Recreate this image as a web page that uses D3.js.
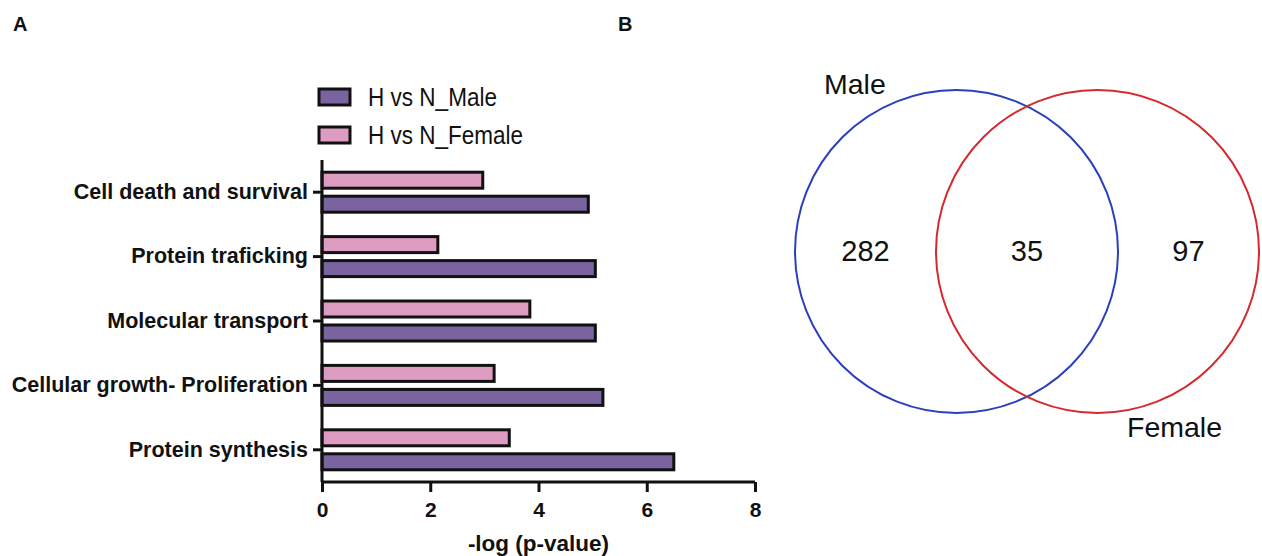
<!DOCTYPE html>
<html>
<head>
<meta charset="utf-8">
<script src="https://cdn.jsdelivr.net/npm/d3@7"></script>
<style>
  body { margin: 0; background: #fff; }
  text { font-family: "Liberation Sans", Arial, sans-serif; fill: #111; }
</style>
</head>
<body>
<script>
// panel A data
var categories = ['Cell death and survival', 'Protein traficking', 'Molecular transport',
  'Cellular growth- Proliferation', 'Protein synthesis'];
var maleValues = [4.92, 5.05, 5.05, 5.19, 6.5];
var femaleValues = [2.97, 2.14, 3.84, 3.18, 3.46];
var seriesNames = ['H vs N_Male', 'H vs N_Female'];
var xTicks = [0, 2, 4, 6, 8];

// panel B data
var vennSets = ['Male', 'Female'];
var vennCounts = [282, 35, 97];

var width = 1262;
var height = 556;

var svg = d3.select('body').append('svg')
  .attr('width', width)
  .attr('height', height);

var purple = '#7a64a0';
var pink = '#dd9cc0';

// panel letters
svg.append('text').attr('x', 13).attr('y', 31)
  .style('font-size', '20px').style('font-weight', 'bold').text('A');
svg.append('text').attr('x', 618).attr('y', 31)
  .style('font-size', '20px').style('font-weight', 'bold').text('B');

// ---- bar chart ----
var x = d3.scaleLinear().domain([0, 8]).range([322, 755]);
var y = d3.scaleBand().domain(categories).range([160, 482]);

var barH = 16;

var rows = categories.map(function(c, i) {
  return {name: c, male: maleValues[i], female: femaleValues[i]};
});

var g = svg.append('g');

g.selectAll('.bar-f')
  .data(rows)
  .enter().append('rect')
    .attr('class', 'bar-f')
    .attr('x', x(0))
    .attr('y', function(d) { return y(d.name) + y.bandwidth() / 2 - 4 - barH; })
    .attr('width', function(d) { return x(d.female) - x(0); })
    .attr('height', barH)
    .attr('fill', pink)
    .attr('stroke', '#111')
    .attr('stroke-width', 3);

g.selectAll('.bar-m')
  .data(rows)
  .enter().append('rect')
    .attr('class', 'bar-m')
    .attr('x', x(0))
    .attr('y', function(d) { return y(d.name) + y.bandwidth() / 2 + 4; })
    .attr('width', function(d) { return x(d.male) - x(0); })
    .attr('height', barH)
    .attr('fill', purple)
    .attr('stroke', '#111')
    .attr('stroke-width', 3);

var xAxis = g.append('g')
  .attr('transform', 'translate(0,482)')
  .call(d3.axisBottom(x).tickValues(xTicks).tickSize(10).tickPadding(10).tickFormat(d3.format('d')));

var yAxis = g.append('g')
  .attr('transform', 'translate(322,0)')
  .call(d3.axisLeft(y).tickSize(9).tickPadding(5));

[xAxis, yAxis].forEach(function(ax) {
  ax.select('.domain').attr('stroke', '#111').attr('stroke-width', 3);
  ax.selectAll('.tick line').attr('stroke', '#111').attr('stroke-width', 3);
  ax.selectAll('.tick text')
    .style('font-family', '"Liberation Sans", Arial, sans-serif')
    .style('font-weight', 'bold')
    .attr('fill', '#111');
});
xAxis.select('.domain').attr('d', 'M' + x(0) + ',0H' + x(8));
yAxis.select('.domain').attr('d', 'M0,' + y.range()[0] + 'V' + y.range()[1]);
xAxis.selectAll('.tick text').style('font-size', '21px').attr('dy', '0.72em');
yAxis.selectAll('.tick text').style('font-size', '21.5px');

svg.append('text')
  .attr('x', (x(0) + x(8)) / 2)
  .attr('y', 551)
  .attr('text-anchor', 'middle')
  .style('font-size', '22.5px')
  .style('font-weight', 'bold')
  .text('-log (p-value)');

// legend
var legend = svg.selectAll('.legend')
  .data(seriesNames)
  .enter().append('g')
    .attr('class', 'legend')
    .attr('transform', function(d, i) { return 'translate(319,' + (89 + i * 38) + ')'; });

legend.append('rect')
  .attr('width', 31)
  .attr('height', 16)
  .attr('fill', function(d, i) { return i === 0 ? purple : pink; })
  .attr('stroke', '#111')
  .attr('stroke-width', 3);

legend.append('text')
  .attr('x', 49)
  .attr('y', 17)
  .style('font-size', '25px')
  .attr('textLength', function(d, i) { return i === 0 ? 129 : 155; })
  .attr('lengthAdjust', 'spacingAndGlyphs')
  .text(function(d) { return d; });

// ---- venn diagram ----
var vx = d3.scaleLinear().domain([0, 1]).range([795, 1259]);
var vy = d3.scaleLinear().domain([0, 1]).range([90, 413]);
var r = (vy(1) - vy(0)) / 2;

var circles = [
  {name: vennSets[0], cx: vx(0) + r, color: '#2b3fbd'},
  {name: vennSets[1], cx: vx(1) - r, color: '#d42a2e'}
];

svg.selectAll('.venn')
  .data(circles)
  .enter().append('circle')
    .attr('class', 'venn')
    .attr('cx', function(d) { return d.cx; })
    .attr('cy', vy(0.5))
    .attr('r', r)
    .attr('fill', 'none')
    .attr('stroke', function(d) { return d.color; })
    .attr('stroke-width', 2);

var countX = [(vx(0) + circles[1].cx - r) / 2, (circles[1].cx - r + circles[0].cx + r) / 2,
  (circles[0].cx + r + vx(1)) / 2];

svg.selectAll('.count')
  .data(vennCounts)
  .enter().append('text')
    .attr('class', 'count')
    .attr('x', function(d, i) { return countX[i]; })
    .attr('y', vy(0.5) + 9)
    .attr('text-anchor', 'middle')
    .style('font-size', '29px')
    .text(function(d) { return d; });

svg.append('text').attr('x', 824).attr('y', 94)
  .style('font-size', '28.5px').text(vennSets[0]);
svg.append('text').attr('x', 1127).attr('y', 437)
  .style('font-size', '28.5px').text(vennSets[1]);
</script>
</body>
</html>
